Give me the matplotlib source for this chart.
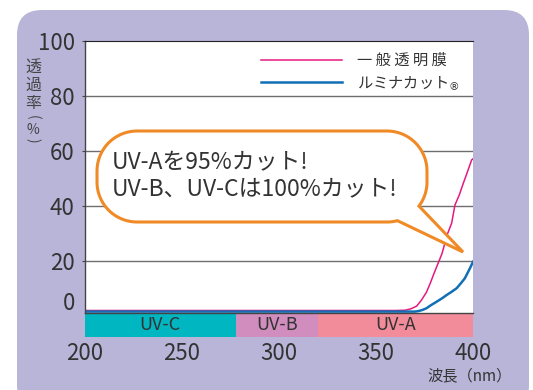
import numpy as np
import matplotlib
matplotlib.use('Agg')
from matplotlib import pyplot as plt
from matplotlib.patches import FancyBboxPatch, Polygon

plt.rcParams['font.family'] = ['Noto Sans CJK JP', 'DejaVu Sans']

# transmittance data
wl_film = [200, 250, 300, 350, 360, 365, 368, 371, 373.5, 376, 378, 380, 382,
           384, 385.5, 387, 389, 390.7, 393, 395, 397, 399.3, 400]
tr_film = [1.9, 1.9, 1.9, 1.9, 1.9, 2.0, 2.5, 3.5, 5.7, 8.5, 11.8, 15.5, 19.0,
           22.5, 26.3, 30.0, 33.6, 40.2, 44.0, 48.1, 52.0, 56.6, 57.0]
wl_lumi = [200, 250, 300, 350, 365, 370, 372, 374, 376, 378.5, 381.3, 384,
           386.4, 389, 391.6, 394, 395.8, 398.4, 400]
tr_lumi = [1.5, 1.5, 1.5, 1.5, 1.5, 1.5, 1.7, 2.1, 2.7, 3.9, 5.1, 6.3,
           7.5, 8.7, 10.0, 12.0, 13.6, 17.2, 19.6]

bands = ['UV-C', 'UV-B', 'UV-A']
band_edges = [200, 278, 320, 400]
band_colors = ['#00b6c1', '#d08dbd', '#f28c9b']

xticks = [200, 250, 300, 350, 400]
yticks = [20, 40, 60, 80, 100]

TXT = '#333333'
MAGENTA = '#e5197f'
BLUE = '#116fb5'
ORANGE = '#f08a26'

fig = plt.figure(figsize=(5.33, 3.9), dpi=100)

# background panel (pixel coordinates)
bg = fig.add_axes([0, 0, 1, 1], zorder=0)
bg.set_xlim(0, 533)
bg.set_ylim(390, 0)
bg.axis('off')
bg.add_patch(FancyBboxPatch((17, 10), 512, 400,
                            boxstyle='round,pad=0,rounding_size=25',
                            fc='#b9b5d9', ec='none'))

# vertical y label
for ch, y, fs in [('透', 67, 11.5), ('過', 85, 11.5), ('率', 103.5, 11.5),
                  ('(', 117, 10), ('%', 129.5, 10), (')', 140, 10)]:
    rot = -90 if ch in '()' else 0
    bg.text(33, y, ch, fontsize=fs, color='#444444', ha='center',
            va='center', rotation=rot, rotation_mode='anchor')

bg.text(470, 376, '波長（nm）', fontsize=11, color=TXT, ha='center',
        va='center')

# main chart
ax = fig.add_axes([84.5 / 533, 1 - 312.7 / 390, 388.5 / 533, 272.2 / 390],
                  zorder=1)
ax.set_facecolor('white')
ax.set_xlim(200, 400)
ax.set_ylim(1.1, 100)

ax.plot(wl_film, tr_film, color=MAGENTA, lw=1.1, label='一 般 透 明 膜')
ax.plot(wl_lumi, tr_lumi, color=BLUE, lw=1.8, label='ルミナカット$_{®}$')

for y in yticks[:-1]:
    ax.axhline(y, color='#6e6e6e', lw=1.0, zorder=0)

ax.spines['right'].set_visible(False)
ax.spines['top'].set_color('#222222')
ax.spines['left'].set_color('#444444')
ax.spines['bottom'].set_color('#444444')
ax.spines['left'].set_linewidth(1.0)
ax.spines['bottom'].set_linewidth(1.0)

ax.set_xticks(xticks)
ax.set_yticks(yticks)
ax.tick_params(axis='x', length=0, pad=21, labelsize=16, labelcolor=TXT)
ax.tick_params(axis='y', length=2, width=0.8, pad=5, labelsize=16,
               labelcolor=TXT, color='#444444')
ax.text(-0.025, 0.033, '0', transform=ax.transAxes, ha='right', va='center',
        fontsize=16, color=TXT)

# UV band strip under the axis
for name, lo, hi, c in zip(bands, band_edges[:-1], band_edges[1:], band_colors):
    ax.axvspan(lo, hi, ymin=-0.089, ymax=-0.005, color=c, clip_on=False,
               lw=0)
    ax.text((lo + hi) / 2, -0.045, name, transform=ax.get_xaxis_transform(),
            ha='center', va='center', fontsize=13, color=TXT)

leg = ax.legend(loc='upper right', bbox_to_anchor=(1.003, 1.008),
                frameon=False, fontsize=11, handlelength=5.3,
                handletextpad=1.0, labelspacing=0.35)
for t in leg.get_texts():
    t.set_color(TXT)

# speech bubble
ov = fig.add_axes([0, 0, 1, 1], zorder=2)
ov.set_xlim(0, 533)
ov.set_ylim(390, 0)
ov.axis('off')

x0, x1, y0, y1, r = 97, 427, 131, 222, 40
tl = (x0 + r, y0 + r)
tr = (x1 - r, y0 + r)
br = (x1 - r, y1 - r)
bl = (x0 + r, y1 - r)


def arc(c, a0, a1, n=20):
    a = np.radians(np.linspace(a0, a1, n))
    return list(zip(c[0] + r * np.cos(a), c[1] + r * np.sin(a)))


pts = (arc(tl, 180, 270) + arc(tr, 270, 360) + arc(br, 0, 37)
       + [(463, 252)] + arc(br, 75, 90) + arc(bl, 90, 180))
ov.add_patch(Polygon(pts, closed=True, fc='white', ec=ORANGE, lw=2.2,
                     joinstyle='miter'))
ov.text(112, 163, 'UV-Aを95%カット!', fontsize=16.5, color=TXT, ha='left',
        va='center')
ov.text(112, 189, 'UV-B、UV-Cは100%カット!', fontsize=16.5, color=TXT,
        ha='left', va='center')

fig.savefig('out.png', dpi=100)
